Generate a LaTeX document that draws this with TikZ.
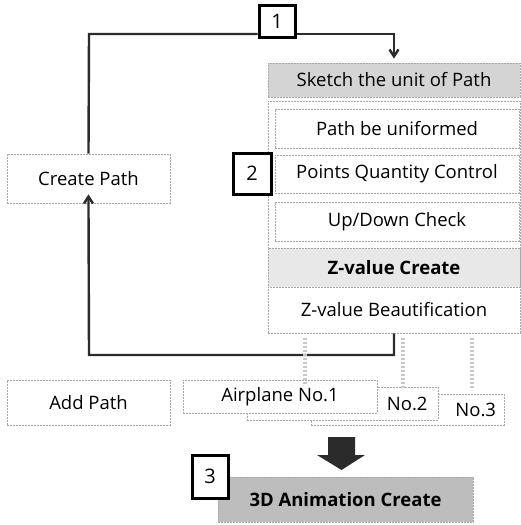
\documentclass[tikz,border=0pt]{standalone}
\usepackage{fontspec}
\setmainfont{Open Sans}
\usetikzlibrary{arrows.meta,positioning}
\definecolor{ink}{HTML}{2B2B2B}
\definecolor{rim}{HTML}{A8A8A8}
\definecolor{shade}{HTML}{D4D4D4}
\definecolor{shadelt}{HTML}{E8E8E8}
\definecolor{shadedk}{HTML}{BDBDBD}
\definecolor{faint}{HTML}{C8C8C8}
\tikzset{
  box/.style={draw=rim, fill=white, dash pattern=on 2pt off 1pt, line width=0.7pt,
              align=center, inner sep=0pt, font=\fontsize{18.5}{21}\selectfont},
  greybox/.style={box, fill=shade},
  greyltbox/.style={box, fill=shadelt},
  numbox/.style={draw=black, fill=white, line width=3pt, inner sep=0pt,
                 font=\fontsize{20}{22}\selectfont},
  ar/.style={-{Straight Barb[length=7pt,width=9pt]}, line width=2.4pt, draw=ink},
  ln/.style={line width=2.4pt, draw=ink},
  ghost/.style={draw=faint, line width=4pt, dash pattern=on 2pt off 2pt}
}
\begin{document}
\begin{tikzpicture}[x=1pt,y=-1pt]
  \useasboundingbox (0,0) rectangle (521,525);
  % left column
  \node[box, minimum width=163, minimum height=49] (create) at (88.5,178.5) {Create Path};
  \node[box, minimum width=163, minimum height=45] (addpath) at (88.5,402.5) {Add Path};
  % right column
  \node[greybox, minimum width=252, minimum height=34] (sketch) at (394,80) {Sketch the unit of Path};
  \node[box, minimum width=252, minimum height=232] (grp) at (394,217) {};
  \node[box, minimum width=244, minimum height=39] (uniform) at (397,128.5) {Path be uniformed};
  \node[box, minimum width=244, minimum height=38] (quantity) at (397,174) {Points Quantity Control};
  \node[box, minimum width=244, minimum height=39] (updown) at (397,221.5) {Up/Down Check};
  \node[greyltbox, minimum width=252, minimum height=39] (zcreate) at (394,267.5) {\bfseries Z-value Create};
  \node[box, minimum width=252, minimum height=46] (zbeaut) at (394,310) {Z-value Beautification};
  % airplanes
  \node[box, minimum width=193, minimum height=31, text width=177, align=right] (plane3) at (407.5,409.5) {No.3};
  \node[box, minimum width=191, minimum height=33, text width=170, align=right] (plane2) at (342.5,403.5) {No.2};
  \node[box, minimum width=194, minimum height=33] (plane1) at (280,396.5) {Airplane No.1};
  \node[greybox, fill=shadedk, minimum width=255, minimum height=45] (anim) at (345.5,499.5) {\bfseries 3D Animation Create};
  % numbers
  \node[numbox, minimum width=36, minimum height=32] (num1) at (277,21) {1};
  \node[numbox, minimum width=38, minimum height=41] (num2) at (252,173.5) {2};
  \node[numbox, minimum width=36, minimum height=43] (num3) at (210,476.5) {3};

  % loop
  \coordinate (tl) at (89,34);
  \coordinate (bl) at (89,355);
  \draw[ln] (create.north) -- (tl) -- (num1.west |- tl);
  \draw[ar] (num1.east |- tl) -| ([yshift=4]sketch.north);
  \draw[ar, shorten >=-9] (grp.south) |- (bl) -- (create.south);

  % faint arrows
  \coordinate (g1) at (305,338);
  \coordinate (g2) at (403,338);
  \coordinate (g3) at (472,338);
  \draw[ghost] (g1) -- ([yshift=-6]g1 |- plane1.north);
  \draw[ghost] (g2) -- ([yshift=-10]g2 |- plane1.north);
  \draw[ghost] (g3) -- ([yshift=-10]g3 |- plane1.north);

  % block arrow
  \coordinate (ah) at (341.5,437);
  \fill[ink] (ah) ++(-13.5,0) -- ++(27,0) -- ++(0,18) -- ++(10,0) -- (ah |- 0,470)
    -- ++(-24.5,-15) -- ++(11,0) -- cycle;
\end{tikzpicture}
\end{document}
